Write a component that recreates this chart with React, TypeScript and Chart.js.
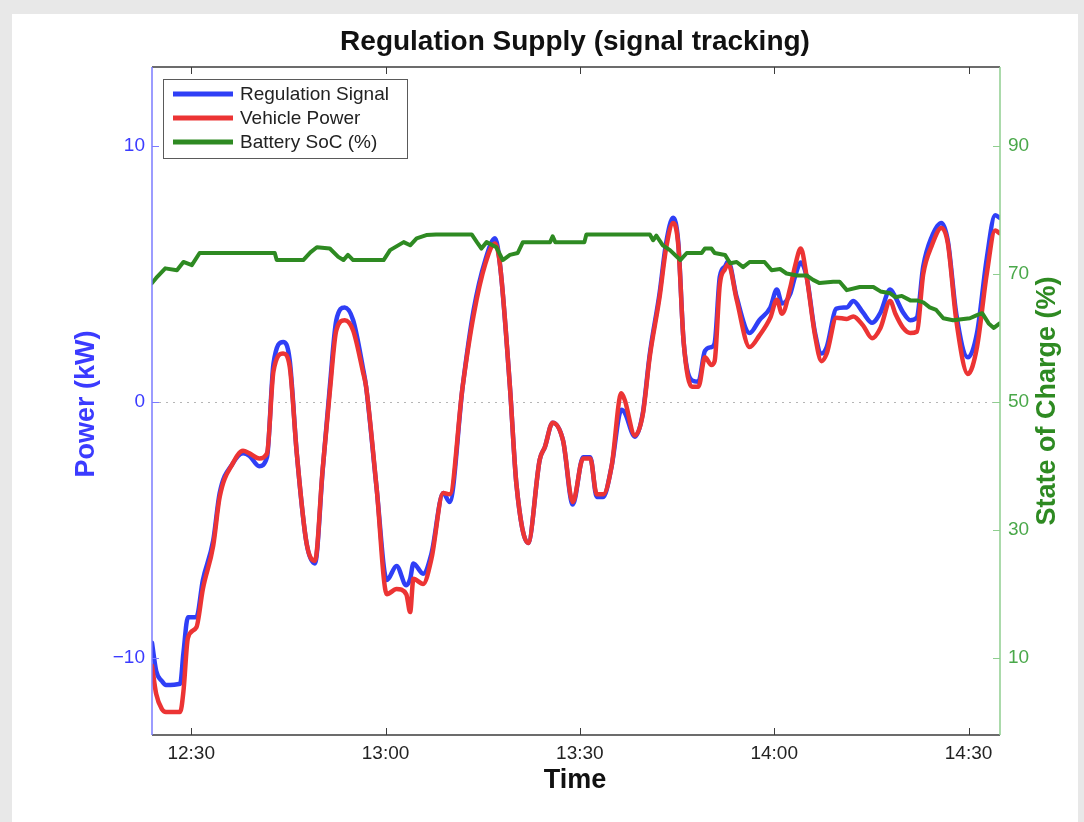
import React, { useEffect, useRef } from "react";
import { Chart, registerables } from "chart.js";

Chart.register(...registerables);

const FONT = "'Liberation Sans', Arial, Helvetica, sans-serif";

const chartTitle = "Regulation Supply (signal tracking)";
const xTitle = "Time";
const leftTitle = "Power (kW)";
const rightTitle = "State of Charge (%)";
const seriesNames = ["Regulation Signal", "Vehicle Power", "Battery SoC (%)"];

// minutes after 12:00
const timeTicks = [30, 60, 90, 120, 150];
const powerTicks = [-10, 0, 10];
const socTicks = [10, 30, 50, 70, 90];

const powerTimes = [
  23.95, 24.6, 25.5, 26.1, 28.3, 28.8, 29.5, 30.8, 31.8, 33.4, 34.4, 36.4, 38.0, 39.0, 40.5, 41.7,
  42.7, 44.2, 45.2, 46.3, 47.8, 49.1, 50.3, 51.4, 52.4, 53.7, 55.0, 56.5, 57.0, 58.6, 60.2, 61.7,
  63.2, 63.8, 64.3, 65.8, 67.1, 68.9, 69.9, 71.9, 73.6, 75.4, 76.9, 77.7, 79.2, 80.2, 82.0, 83.8,
  84.6, 85.8, 87.4, 88.9, 90.5, 91.6, 92.6, 93.6, 94.9, 96.4, 96.9, 98.5, 99.7, 100.8, 102.3, 103.3,
  104.4, 105.2, 106.0, 107.3, 108.3, 109.3, 110.3, 110.8, 111.6, 112.4, 112.9, 114.2, 116.2, 117.7,
  119.4, 120.4, 121.2, 122.5, 123.2, 124.1, 125.0, 126.3, 127.3, 128.1, 129.6, 131.2, 132.2, 133.7,
  135.1, 136.4, 137.9, 138.7, 139.9, 141.0, 142.0, 143.0, 144.3, 145.8, 146.8, 148.1, 149.9, 151.3,
  152.8, 154.1, 154.8,
];

const regulationSignal = [
  -9.4, -10.5, -10.9, -11.05, -11.0, -9.8, -8.4, -8.4, -6.95, -5.4, -3.55, -2.4, -2.0, -2.1, -2.5, -2.15,
  1.5, 2.35, 1.65, -2.0, -5.5, -6.3, -2.65, 0.6, 3.2, 3.7, 3.2, 1.35, 0.6, -3.3, -6.95, -6.4,
  -7.15, -6.9, -6.3, -6.7, -5.9, -3.55, -3.9, 0.6, 3.6, 5.55, 6.4, 5.3, 0.6, -3.2, -5.5, -2.25,
  -1.75, -0.8, -1.5, -4.0, -2.15, -2.15, -3.7, -3.7, -2.5, -0.3, -0.4, -1.35, -0.45, 1.9, 4.25, 6.2,
  7.2, 6.2, 2.4, 0.85, 0.8, 2.0, 2.15, 2.3, 4.9, 5.3, 5.5, 4.1, 2.7, 3.2,
  3.7, 4.4, 3.85, 4.25, 4.9, 5.45, 4.9, 2.7, 1.9, 2.15, 3.65, 3.7, 3.95, 3.5,
  3.1, 3.5, 4.4, 4.1, 3.5, 3.2, 3.3, 5.3, 6.45, 7.0, 6.3, 3.45, 1.75, 2.7,
  5.6, 7.3, 7.2,
];

const vehiclePower = [
  -10.3, -11.4, -12.0, -12.1, -12.1, -11.3, -9.2, -8.8, -7.3, -5.6, -3.7, -2.4, -1.9, -2.0, -2.2, -2.0,
  1.2, 1.9, 1.4, -2.0, -5.5, -6.2, -2.6, 0.4, 2.8, 3.2, 2.8, 1.2, 0.6, -3.3, -7.5, -7.3,
  -7.5, -8.2, -6.9, -7.1, -6.1, -3.55, -3.6, 0.6, 3.4, 5.4, 6.2, 5.3, 0.6, -3.2, -5.5, -2.25,
  -1.75, -0.8, -1.5, -3.9, -2.2, -2.2, -3.6, -3.6, -2.5, 0.35, 0.1, -1.3, -0.5, 1.8, 4.1, 6.0,
  7.0, 6.1, 2.4, 0.6, 0.6, 1.75, 1.45, 1.6, 4.6, 5.2, 5.4, 4.0, 2.15, 2.6,
  3.3, 4.0, 3.45, 4.5, 5.3, 6.0, 4.9, 2.6, 1.6, 1.9, 3.3, 3.25, 3.35, 3.0,
  2.5, 2.9, 3.95, 3.45, 2.9, 2.7, 2.75, 5.0, 6.1, 6.8, 6.2, 3.2, 1.1, 2.15,
  5.0, 6.7, 6.6,
];

const socTimes = [
  23.95, 24.6, 26.0, 27.8, 28.8, 30.1, 31.3, 42.9, 43.2, 47.3, 48.4, 49.4, 51.4, 52.7, 53.5, 54.2,
  55.0, 59.7, 60.7, 62.8, 63.8, 64.8, 66.3, 67.8, 73.3, 74.1, 74.8, 75.6, 77.1, 78.1, 79.2, 80.4,
  81.2, 85.4, 85.8, 86.2, 90.7, 91.0, 100.8, 101.3, 101.8, 102.8, 103.9, 105.5, 106.5, 108.8, 109.3,
  110.3, 110.8, 112.4, 113.2, 114.2, 115.2, 116.2, 118.5, 119.6, 120.9, 121.9, 123.5, 125.0, 126.0,
  127.0, 129.1, 130.1, 131.2, 133.2, 135.3, 136.4, 137.9, 138.7, 139.7, 141.0, 142.0, 143.0, 144.0,
  145.0, 146.1, 147.6, 150.2, 151.3, 152.1, 153.1, 153.9, 154.8,
];

const batterySoC = [
  68.6, 69.4, 70.9, 70.6, 71.9, 71.4, 73.3, 73.3, 72.2, 72.2, 73.4, 74.2, 74.0, 72.7, 72.2, 73.0,
  72.2, 72.2, 73.75, 75.0, 74.5, 75.6, 76.1, 76.2, 76.2, 75.0, 74.0, 75.0, 74.2, 72.2, 73.0, 73.3,
  75.0, 75.0, 75.9, 75.0, 75.0, 76.2, 76.2, 75.3, 76.0, 74.5, 73.75, 72.2, 73.3, 73.3, 74.0,
  74.0, 73.3, 73.0, 71.7, 71.9, 71.1, 71.9, 71.9, 70.6, 70.8, 70.1, 69.8, 69.8, 69.1,
  68.6, 68.8, 68.8, 67.5, 68.0, 68.0, 67.3, 67.0, 66.4, 66.6, 65.9, 65.9, 65.6, 64.8,
  64.4, 63.1, 62.8, 63.1, 63.6, 63.9, 62.3, 61.6, 62.3,
];

const BLUE = "#2f3ff6";
const RED = "#ec3434";
const GREEN = "#2e8a22";
const AXIS_BLUE = "#3b3bff";
const AXIS_GREEN = "#4aa84a";

const formatTime = (v: number) => {
  const h = 12 + Math.floor(v / 60);
  const m = Math.round(v % 60);
  return `${h}:${m < 10 ? "0" + m : m}`;
};

const decor = {
  id: "decor",
  beforeDatasetsDraw(chart: any) {
    const { ctx, chartArea: a, scales } = chart;
    const y0 = Math.round(scales.y.getPixelForValue(0)) + 0.5;
    ctx.save();
    ctx.strokeStyle = "#b5b5b5";
    ctx.lineWidth = 1;
    ctx.setLineDash([2, 5]);
    ctx.beginPath();
    ctx.moveTo(a.left, y0);
    ctx.lineTo(a.right, y0);
    ctx.stroke();
    ctx.restore();
  },
  afterDraw(chart: any) {
    const { ctx, chartArea: a, scales } = chart;
    ctx.save();
    // frame
    ctx.lineWidth = 1.5;
    ctx.strokeStyle = "#3c3c3c";
    ctx.beginPath();
    ctx.moveTo(a.left, a.top);
    ctx.lineTo(a.right, a.top);
    ctx.moveTo(a.left, a.bottom);
    ctx.lineTo(a.right, a.bottom);
    ctx.stroke();
    // x ticks top and bottom
    ctx.lineWidth = 1;
    ctx.beginPath();
    timeTicks.forEach((t) => {
      const x = Math.round(scales.x.getPixelForValue(t)) + 0.5;
      ctx.moveTo(x, a.bottom);
      ctx.lineTo(x, a.bottom - 7);
      ctx.moveTo(x, a.top);
      ctx.lineTo(x, a.top + 7);
    });
    ctx.stroke();
    // left axis
    ctx.strokeStyle = "#7b7bff";
    ctx.lineWidth = 1.5;
    ctx.beginPath();
    ctx.moveTo(a.left, a.top);
    ctx.lineTo(a.left, a.bottom);
    ctx.stroke();
    ctx.lineWidth = 1;
    ctx.beginPath();
    powerTicks.forEach((v) => {
      const y = Math.round(scales.y.getPixelForValue(v)) + 0.5;
      ctx.moveTo(a.left, y);
      ctx.lineTo(a.left + 7, y);
    });
    ctx.stroke();
    // right axis
    ctx.strokeStyle = "#8fce8f";
    ctx.lineWidth = 1.5;
    ctx.beginPath();
    ctx.moveTo(a.right, a.top);
    ctx.lineTo(a.right, a.bottom);
    ctx.stroke();
    ctx.lineWidth = 1;
    ctx.beginPath();
    socTicks.forEach((v) => {
      const y = Math.round(scales.y1.getPixelForValue(v)) + 0.5;
      ctx.moveTo(a.right, y);
      ctx.lineTo(a.right - 7, y);
    });
    ctx.stroke();

    // legend
    const lx = 163.5, ly = 79.5, lw = 244, lh = 79;
    ctx.fillStyle = "#ffffff";
    ctx.fillRect(lx, ly, lw, lh);
    ctx.strokeStyle = "#5a5a5a";
    ctx.lineWidth = 1;
    ctx.strokeRect(lx, ly, lw, lh);
    const colors = [BLUE, RED, GREEN];
    const rows = [94, 118, 142];
    ctx.font = `19px ${FONT}`;
    ctx.textBaseline = "middle";
    ctx.textAlign = "left";
    seriesNames.forEach((name, i) => {
      ctx.strokeStyle = colors[i];
      ctx.lineWidth = 5;
      ctx.beginPath();
      ctx.moveTo(173, rows[i]);
      ctx.lineTo(233, rows[i]);
      ctx.stroke();
      ctx.fillStyle = "#222222";
      ctx.fillText(name, 240, rows[i] + 1);
    });

    // titles
    ctx.fillStyle = "#111111";
    ctx.textAlign = "center";
    ctx.font = `bold 28px ${FONT}`;
    ctx.fillText(chartTitle, 575, 42);
    ctx.font = `bold 27px ${FONT}`;
    ctx.fillText(xTitle, 575, 781);

    ctx.save();
    ctx.translate(87, 404);
    ctx.rotate(-Math.PI / 2);
    ctx.fillStyle = AXIS_BLUE;
    ctx.fillText(leftTitle, 0, 0);
    ctx.restore();

    ctx.save();
    ctx.translate(1048, 401);
    ctx.rotate(-Math.PI / 2);
    ctx.fillStyle = GREEN;
    ctx.fillText(rightTitle, 0, 0);
    ctx.restore();

    ctx.restore();
  },
};

export default function App() {
  const ref = useRef<HTMLCanvasElement>(null);

  useEffect(() => {
    const canvas = ref.current;
    if (!canvas) return;
    const toPts = (xs: number[], ys: number[]) => xs.map((x, i) => ({ x, y: ys[i] }));
    const tickFont = { family: FONT, size: 19 };
    const chart = new Chart(canvas, {
      type: "line",
      data: {
        datasets: [
          {
            label: seriesNames[0],
            data: toPts(powerTimes, regulationSignal),
            borderColor: BLUE,
            backgroundColor: BLUE,
            borderWidth: 4.5,
            pointRadius: 0,
            cubicInterpolationMode: "monotone",
            yAxisID: "y",
            order: 3,
          },
          {
            label: seriesNames[1],
            data: toPts(powerTimes, vehiclePower),
            borderColor: RED,
            backgroundColor: RED,
            borderWidth: 4.5,
            pointRadius: 0,
            cubicInterpolationMode: "monotone",
            yAxisID: "y",
            order: 2,
          },
          {
            label: seriesNames[2],
            data: toPts(socTimes, batterySoC),
            borderColor: GREEN,
            backgroundColor: GREEN,
            borderWidth: 4,
            pointRadius: 0,
            yAxisID: "y1",
            order: 1,
          },
        ],
      },
      options: {
        responsive: false,
        animation: false,
        layout: { padding: { top: 67, left: 0, right: 0, bottom: 0 } },
        elements: { line: { tension: 0, borderJoinStyle: "round", borderCapStyle: "round" } },
        plugins: {
          legend: { display: false },
          title: { display: false },
          tooltip: { enabled: false },
        },
        scales: {
          x: {
            type: "linear",
            min: 23.95,
            max: 154.85,
            afterBuildTicks: (s: any) => {
              s.ticks = timeTicks.map((v) => ({ value: v }));
            },
            afterFit: (s: any) => {
              s.height = 87;
            },
            grid: { display: false, drawTicks: false },
            border: { display: false },
            ticks: {
              padding: 7,
              color: "#222222",
              font: tickFont,
              maxRotation: 0,
              autoSkip: false,
              callback: (v: any) => formatTime(Number(v)),
            },
          },
          y: {
            type: "linear",
            position: "left",
            min: -13.0,
            max: 13.09,
            afterBuildTicks: (s: any) => {
              s.ticks = powerTicks.map((v) => ({ value: v }));
            },
            afterFit: (s: any) => {
              s.width = 152;
            },
            grid: { display: false, drawTicks: false },
            border: { display: false },
            ticks: {
              padding: 7,
              color: AXIS_BLUE,
              font: tickFont,
              callback: (v: any) => (Number(v) < 0 ? "\u2212" + Math.abs(Number(v)) : String(v)),
            },
          },
          y1: {
            type: "linear",
            position: "right",
            min: -2.0,
            max: 102.36,
            afterBuildTicks: (s: any) => {
              s.ticks = socTicks.map((v) => ({ value: v }));
            },
            afterFit: (s: any) => {
              s.width = 84;
            },
            grid: { display: false, drawTicks: false },
            border: { display: false },
            ticks: {
              padding: 8,
              color: AXIS_GREEN,
              font: tickFont,
              callback: (v: any) => String(v),
            },
          },
        },
      },
      plugins: [decor],
    } as any);
    return () => chart.destroy();
  }, []);

  return (
    <div
      style={{
        position: "fixed",
        left: 0,
        top: 0,
        width: 1084,
        height: 822,
        background: "#e8e8e8",
        overflow: "hidden",
      }}
    >
      <div
        style={{
          position: "absolute",
          left: 12,
          top: 14,
          width: 1066,
          height: 808,
          background: "#ffffff",
        }}
      />
      <canvas
        ref={ref}
        width={1084}
        height={822}
        style={{ position: "absolute", left: 0, top: 0, width: 1084, height: 822 }}
      />
    </div>
  );
}
